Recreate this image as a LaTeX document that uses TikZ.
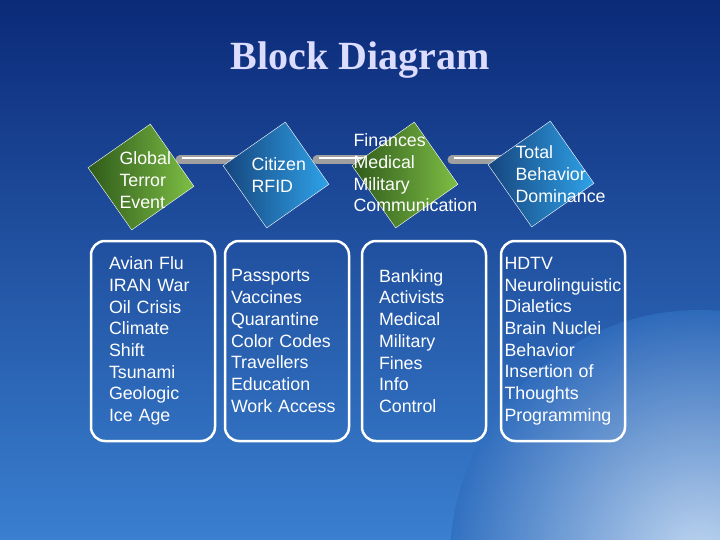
\documentclass[tikz,border=0pt]{standalone}
\usepackage{fontspec}
\setmainfont{Liberation Sans}
\newfontfamily\titlefont{Liberation Serif}
\usetikzlibrary{positioning,backgrounds}

\definecolor{navy}{HTML}{0B2A78}
\definecolor{skyblue}{HTML}{3A7FD0}
\definecolor{leafdark}{HTML}{2F5A1A}
\definecolor{leaflight}{HTML}{7DBE45}
\definecolor{sealdark}{HTML}{16457E}
\definecolor{seallight}{HTML}{2FA2E8}
\definecolor{titlecol}{HTML}{DCDCFF}

\begin{document}
\begin{tikzpicture}[
        x=1pt,y=-1pt,
        stage/.style={
          rectangle,
          minimum size=76pt,
          rotate=35,
          draw=white!80,
          thin
        },
        green stage/.style={stage,left color=leafdark,right color=leaflight},
        blue stage/.style={stage,left color=sealdark,right color=seallight},
        caption/.style={
          text=white,
          align=left,
          font=\fontsize{17.8}{21.7}\selectfont
        },
        list/.style={
          rectangle,
          rounded corners=14pt,
          draw=white,
          line width=2.5pt,
          minimum width=124pt,
          minimum height=200pt,
          text width=#1,
          text=white,
          align=left,
          font=\fontsize{17.8}{21.7}\selectfont
        },
        bar/.style={line width=9pt,line cap=round,draw=gray!75}
      ]
      \useasboundingbox (0,0) rectangle (720,540);
      % stages
      \node[green stage] (terror) at (141,177) {};
      \node[blue stage] (rfid) at (276,175) {};
      \node[green stage] (control) at (405,175) {};
      \node[blue stage] (dominance) at (541,174) {};
      \node[caption,anchor=west] (terrortext) at (116,180) {Global\\Terror\\Event};
      \node[caption,anchor=west] (rfidtext) at (248,175) {Citizen\\RFID};
      \node[caption,anchor=west] (controltext) at (350,173) {Finances\\Medical\\Military\\Communication};
      \node[caption,anchor=west] (dominancetext) at (512,174) {Total\\Behavior\\Dominance};

      % lists
      \node[list=88pt] (natural) at (153,341) {Avian Flu\\IRAN War\\Oil Crisis\\Climate\\Shift\\Tsunami\\Geologic\\Ice Age};
      \node[list=112pt] (papers) at (287,341) {Passports\\Vaccines\\Quarantine\\Color Codes\\Travellers\\Education\\Work Access};
      \node[list=90pt] (money) at (424,341) {Banking\\Activists\\Medical\\Military\\Fines\\Info\\Control};
      \node[list=117pt] (mind) at (563,341) {HDTV\\Neurolinguistic\\Dialetics\\Brain Nuclei\\Behavior\\Insertion of\\Thoughts\\Programming};

      \node[text=titlecol,font=\titlefont\bfseries\fontsize{40}{42}\selectfont] (title) at (360,60) {Block Diagram};

      \begin{scope}[on background layer]
        \shade[top color=navy,bottom color=skyblue] (0,0) rectangle (720,540);
        \begin{scope}
          \clip (0,0) rectangle (720,540);
          \shade[inner color=white!85!skyblue,outer color=skyblue!80!navy,opacity=0.8] (700,560) circle (250);
        \end{scope}
        \draw[bar,shorten <=39pt,shorten >=39pt] ([yshift=17pt]terror.center) -- ([yshift=15pt]rfid.center);
        \draw[bar,shorten <=41pt,shorten >=36pt] ([yshift=15pt]rfid.center) -- ([yshift=15pt]control.center);
        \draw[bar,shorten <=47pt,shorten >=36pt] ([yshift=15pt]control.center) -- ([yshift=14pt]dominance.center);
        \draw[line width=2.5pt,white!90,shorten <=41pt,shorten >=41pt] ([yshift=19pt]terror.center) -- ([yshift=17pt]rfid.center);
        \draw[line width=2.5pt,white!90,shorten <=43pt,shorten >=38pt] ([yshift=17pt]rfid.center) -- ([yshift=17pt]control.center);
        \draw[line width=2.5pt,white!90,shorten <=49pt,shorten >=38pt] ([yshift=17pt]control.center) -- ([yshift=16pt]dominance.center);
      \end{scope}
      \end{tikzpicture}
\end{document}
